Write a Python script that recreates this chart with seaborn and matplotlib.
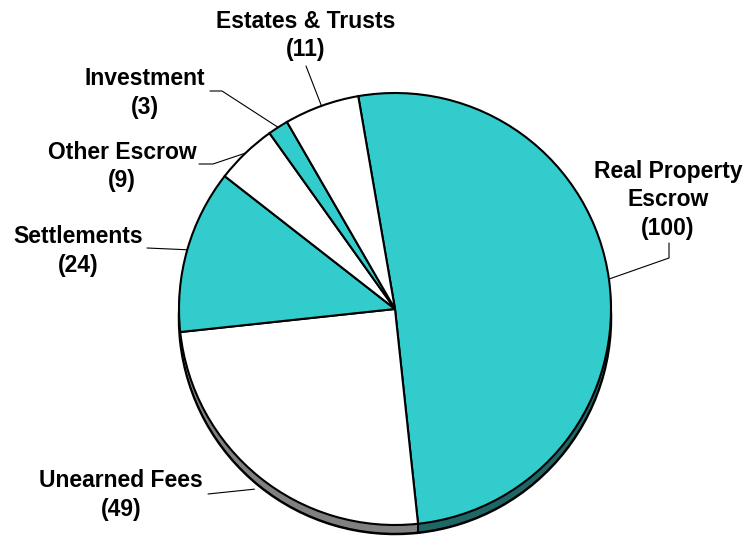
import numpy as np
import matplotlib
matplotlib.use("Agg")
import matplotlib.pyplot as plt
import seaborn as sns

categories = ["Real Property Escrow", "Unearned Fees", "Settlements",
              "Other Escrow", "Investment", "Estates & Trusts"]
values = [100, 49, 24, 9, 3, 11]
label_text = ["Real Property\nEscrow\n(100)", "Unearned Fees\n(49)", "Settlements\n(24)",
              "Other Escrow\n(9)", "Investment\n(3)", "Estates & Trusts\n(11)"]
face_colors = ["#33CCCC", "#FFFFFF", "#33CCCC", "#FFFFFF", "#33CCCC", "#FFFFFF"]
shadow_colors = ["#1F6666", "#808080", "#1F6666", "#808080", "#1F6666", "#808080"]

sns.set_theme(style="white")
plt.rcParams['font.family'] = ['Liberation Sans', 'DejaVu Sans']

W, H = 756, 539
fig = plt.figure(figsize=(W / 100, H / 100), dpi=100)
ax = fig.add_axes([0, 0, 1, 1])

cx, cy, r = 395, H - 309, 216
start = 99.8
depth = 9

# extrusion (3D side): outlined bottom copy plus filled intermediate copies
ax.pie(values, colors=shadow_colors, startangle=start, counterclock=False,
       radius=r, center=(cx, cy - depth), frame=True,
       wedgeprops=dict(edgecolor="black", linewidth=1.8))
for d in range(depth - 1, 0, -1):
    ax.pie(values, colors=shadow_colors, startangle=start, counterclock=False,
           radius=r - 0.8, center=(cx, cy - d), frame=True,
           wedgeprops=dict(edgecolor="none", linewidth=0))
wedges, _ = ax.pie(values, colors=face_colors, startangle=start, counterclock=False,
                   radius=r, center=(cx, cy), frame=True,
                   wedgeprops=dict(edgecolor="black", linewidth=1.5))

# vertical side edges at front-facing slice boundaries
for w in wedges:
    a = np.deg2rad(w.theta1)
    if np.sin(a) < 0:
        bx, by = cx + r * np.cos(a), cy + r * np.sin(a)
        ax.plot([bx, bx], [by, by - depth], color="black", linewidth=1.4, zorder=4)

# label layout (pixel coords from top): text center, leader path points (before anchor)
text_pos = [(668, 200), (121, 495), (78, 251), (122, 166.5), (145, 93), (306, 35.5)]
leader_pts = [[(669, 243), (669, 258)], [(208, 494)], [(147, 248)],
              [(199, 164), (213, 164)], [(210, 91), (222, 91)], [(306, 66)]]
anchor_extra = [(0, 0), (-5, -12), (0, 0), (0, 0), (0, 0), (0, 0)]

for w, txt, tp, lp, ae in zip(wedges, label_text, text_pos, leader_pts, anchor_extra):
    mid = np.deg2rad((w.theta1 + w.theta2) / 2)
    ax_ = cx + r * np.cos(mid) + ae[0]
    ay_ = cy + r * np.sin(mid) + ae[1]
    xs = [p[0] for p in lp] + [ax_]
    ys = [H - p[1] for p in lp] + [ay_]
    ax.plot(xs, ys, color="black", linewidth=0.8, zorder=5)
    ax.text(tp[0], H - tp[1], txt, ha="center", va="center", fontsize=16.5,
            fontweight="bold", linespacing=1.28, color="black", zorder=6)

ax.set_xlim(0, W)
ax.set_ylim(0, H)
ax.set_aspect("equal")
ax.axis("off")
fig.savefig("out.png", dpi=100, facecolor="white")
